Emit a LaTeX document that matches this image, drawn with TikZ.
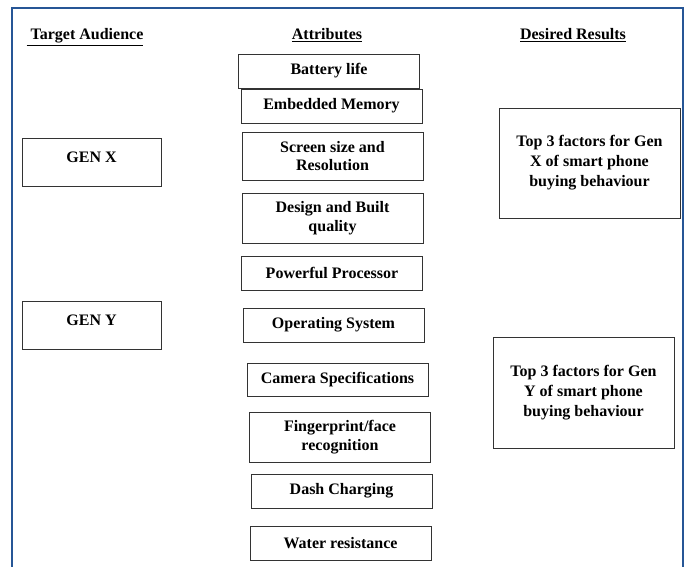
\documentclass[tikz,border=0pt]{standalone}
\usepackage{fontspec}
\setmainfont{Liberation Serif}
\usetikzlibrary{positioning}

\definecolor{frameblue}{RGB}{38,86,150}

\tikzset{
  box/.style={draw=black!80, line width=0.8pt, inner sep=0pt, align=center,
    font=\bfseries\fontsize{16}{18.5}\selectfont},
  attrbox/.style={box, minimum width=181pt, minimum height=34pt},
  genbox/.style={box, minimum width=139pt, text height=24pt, text depth=24pt},
  resultbox/.style={box, minimum width=181pt, minimum height=110pt,
    font=\bfseries\fontsize{16}{20}\selectfont},
  heading/.style={anchor=base, font=\bfseries\fontsize{16}{18.5}\selectfont}
}

\begin{document}
\begin{tikzpicture}[x=1pt, y=-1pt]
  \useasboundingbox (0,0) rectangle (688,567);

  % outer frame, open at the bottom
  \draw[frameblue, line width=1.3pt] (12,567) -- (12,8) -- (683,8) -- (683,567);

  % column headings
  \node[heading] (audience) at (85,40) {\underline{\ Target Audience}};
  \node[heading] (attributes) at (327,40) {\underline{Attributes}};
  \node[heading] (results) at (573,40) {\underline{Desired Results}};

  % target audience
  \node[genbox] (genx) at (91.5,162) {GEN X};
  \node[genbox] (geny) at (91.5,325) {GEN Y};

  % attributes
  \node[attrbox] (battery) at (329,71) {Battery life};
  \node[attrbox] (memory) at (331.5,106) {Embedded Memory};
  \node[attrbox, minimum height=48pt] (screen) at (332.5,156) {Screen size and\\Resolution};
  \node[attrbox, minimum height=50pt] (design) at (332.5,218) {Design and Built\\quality};
  \node[attrbox] (processor) at (332,273) {Powerful Processor};
  \node[attrbox] (os) at (333.5,325) {Operating System};
  \node[attrbox, minimum height=33pt] (camera) at (337.5,379.5) {Camera Specifications};
  \node[attrbox, minimum height=50pt] (fingerprint) at (340,437) {Fingerprint/face\\recognition};
  \node[attrbox] (dash) at (341.5,491) {Dash Charging};
  \node[attrbox] (water) at (340.5,543) {Water resistance};

  % desired results
  \node[resultbox] (genxres) at (589.5,163) {Top 3 factors for Gen\\X of smart phone\\buying behaviour};
  \node[resultbox, minimum height=111pt] (genyres) at (583.5,392.5) {Top 3 factors for Gen\\Y of smart phone\\buying behaviour};

\end{tikzpicture}
\end{document}
